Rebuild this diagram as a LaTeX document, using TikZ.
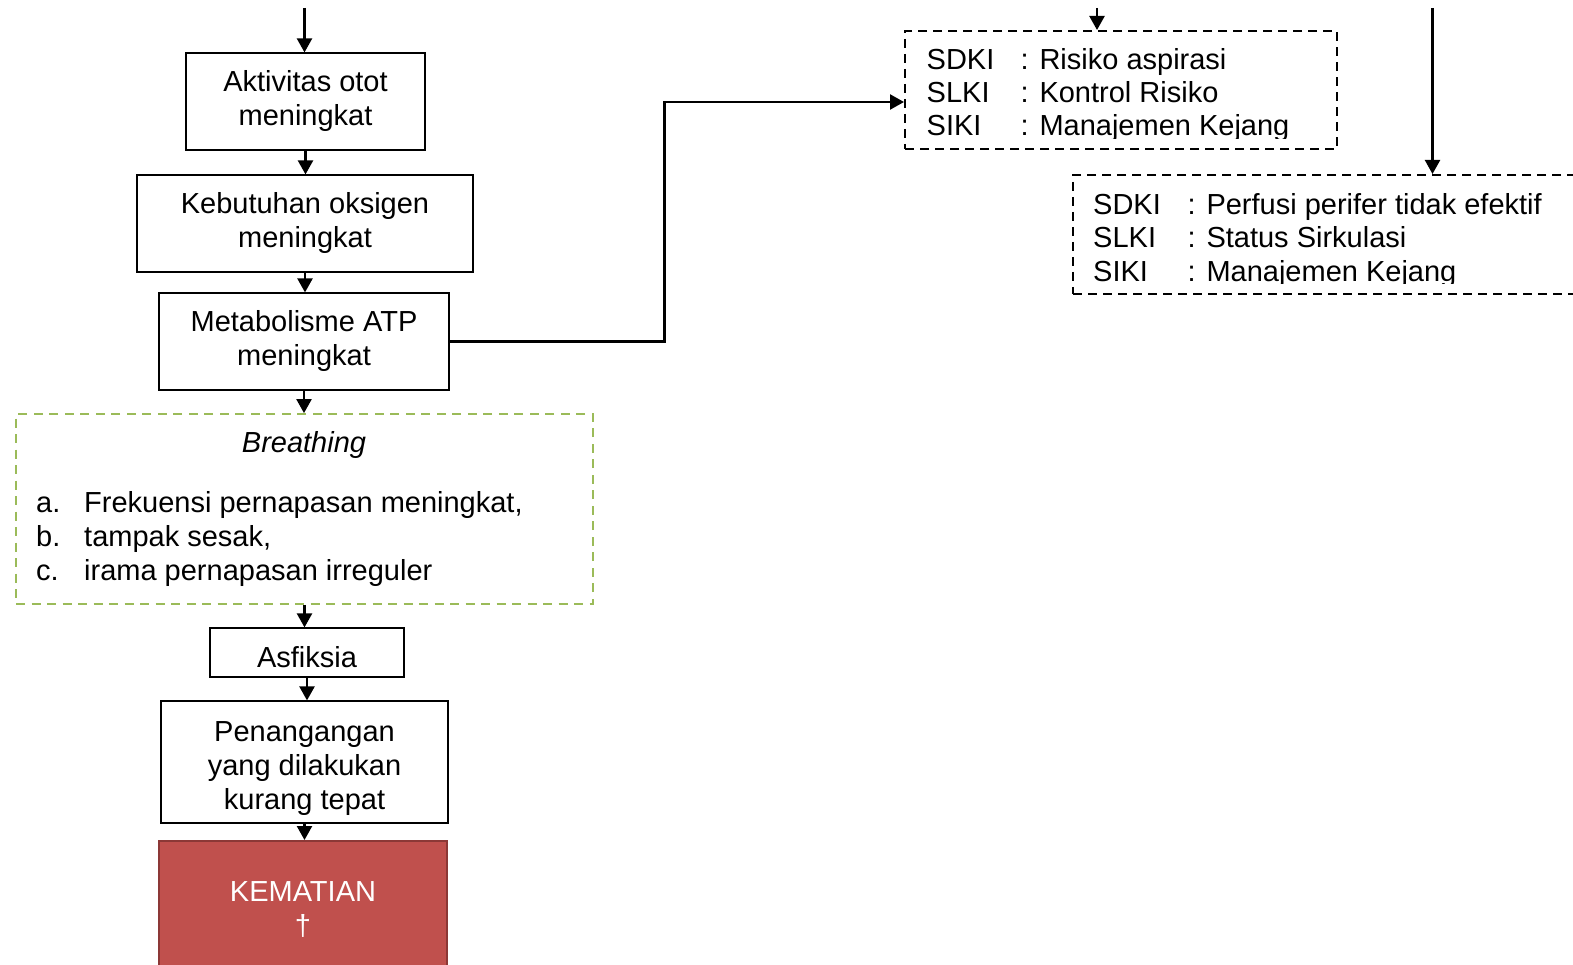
\documentclass[tikz,border=0pt]{standalone}
\usepackage{fontspec}
\setmainfont{Liberation Sans}
\usetikzlibrary{arrows.meta}
\definecolor{okgreen}{HTML}{9BBB59}
\definecolor{deathred}{HTML}{C0504D}
\definecolor{deathedge}{HTML}{8C3836}
\tikzset{
  txt/.style={font=\fontsize{29}{34}\selectfont, inner sep=0pt},
  flowbox/.style={draw, line width=1.2pt, txt, align=center},
  arr/.style={line width=2.3pt, -{Triangle[width=15pt,length=14pt]}},
  notebox/.style={draw, line width=2pt, dash pattern=on 9pt off 6pt, inner sep=0pt},
  obsbox/.style={draw=okgreen, line width=1.8pt, dash pattern=on 9pt off 6.5pt, inner sep=0pt},
  deathbox/.style={draw=deathedge, fill=deathred, line width=2pt, txt, text=white, align=center},
  item/.style={txt, anchor=base west},
}
\begin{document}
\begin{tikzpicture}[x=1pt, y=-1pt]
\useasboundingbox (0,0) rectangle (1573,965);
\clip (0,0) rectangle (1573,965);

% main chain of boxes
\node[flowbox, minimum width=239pt, minimum height=97pt] (akt) at (305.5,101.5) {Aktivitas otot\\meningkat};
\node[flowbox, minimum width=336pt, minimum height=97pt] (keb) at (305,223.5) {Kebutuhan oksigen\\meningkat};
\node[flowbox, minimum width=290pt, minimum height=97pt] (met) at (304,341.5) {Metabolisme ATP\\meningkat};
\node[obsbox, minimum width=577pt, minimum height=190pt] (breath) at (304.5,509) {};
\node[flowbox, minimum width=194pt, minimum height=49pt, text height=30pt, text depth=0pt] (asf) at (307,652.5) {Asfiksia};
\node[flowbox, minimum width=287pt, minimum height=122pt, text height=95pt, text depth=0pt] (pen) at (304.5,762) {Penangangan\\yang dilakukan\\kurang tepat};
\node[deathbox, minimum width=288pt, minimum height=136pt] (kem) at (303,909) {KEMATIAN\\†};

% breathing assessment
\node[txt, anchor=base, font=\fontsize{29}{34}\selectfont\itshape] (brt) at (304,452) {Breathing};
\node[item] (la) at (36,512) {a.};
\node[item] (ta) at (84,512) {Frekuensi pernapasan meningkat,};
\node[item] (lb) at (36,546) {b.};
\node[item] (tb) at (84,546) {tampak sesak,};
\node[item] (lc) at (36,580) {c.};
\node[item] (tc) at (84,580) {irama pernapasan irreguler};

% nursing diagnosis boxes
\node[notebox, minimum width=432pt, minimum height=118pt] (box1) at (1121,90) {};
\node[notebox, minimum width=567pt, minimum height=119pt] (box2) at (1356.5,234.5) {};

\node[item] (d1) at (926.5,69.6) {SDKI};
\node[item] (d1v) at (1020.5,69.6) {: Risiko aspirasi};
\node[item] (l1) at (926.5,102.7) {SLKI};
\node[item] (l1v) at (1020.5,102.7) {: Kontrol Risiko};
\begin{scope}
  \clip (900,110) rectangle (1340,138.5);
  \node[item] (i1) at (926.5,135.8) {SIKI};
  \node[item] (i1v) at (1020.5,135.8) {: Manajemen Kejang};
\end{scope}

\node[item] (d2) at (1093,214.5) {SDKI};
\node[item] (d2v) at (1187.5,214.5) {: Perfusi perifer tidak efektif};
\node[item] (l2) at (1093,248) {SLKI};
\node[item] (l2v) at (1187.5,248) {: Status Sirkulasi};
\begin{scope}
  \clip (1077,255) rectangle (1573,284);
  \node[item] (i2) at (1093,281.5) {SIKI};
  \node[item] (i2v) at (1187.5,281.5) {: Manajemen Kejang};
\end{scope}

% connectors
\coordinate (top0) at (304.5,8);
\coordinate (top1) at (1097,8);
\coordinate (top2) at (1432.5,8);
\coordinate (bend) at (664.5,102);
\coordinate (in1) at (box1.west |- bend);

\draw[arr] (top0) -- (top0 |- akt.north);
\draw[arr] (akt.south) -- (akt.south |- keb.north);
\draw[arr] (keb.south) -- (keb.south |- met.north);
\draw[arr] (met.south) -- (met.south |- breath.north);
\draw[arr] (breath.south) -- (breath.south |- asf.north);
\draw[arr] (asf.south) -- (asf.south |- pen.north);
\draw[arr] (pen.south) -- (pen.south |- kem.north);
\draw[arr] (met.east) -| (bend) -- (in1);
\draw[arr] (top1) -- (top1 |- box1.north);
\draw[arr] (top2) -- (top2 |- box2.north);
\end{tikzpicture}
\end{document}
